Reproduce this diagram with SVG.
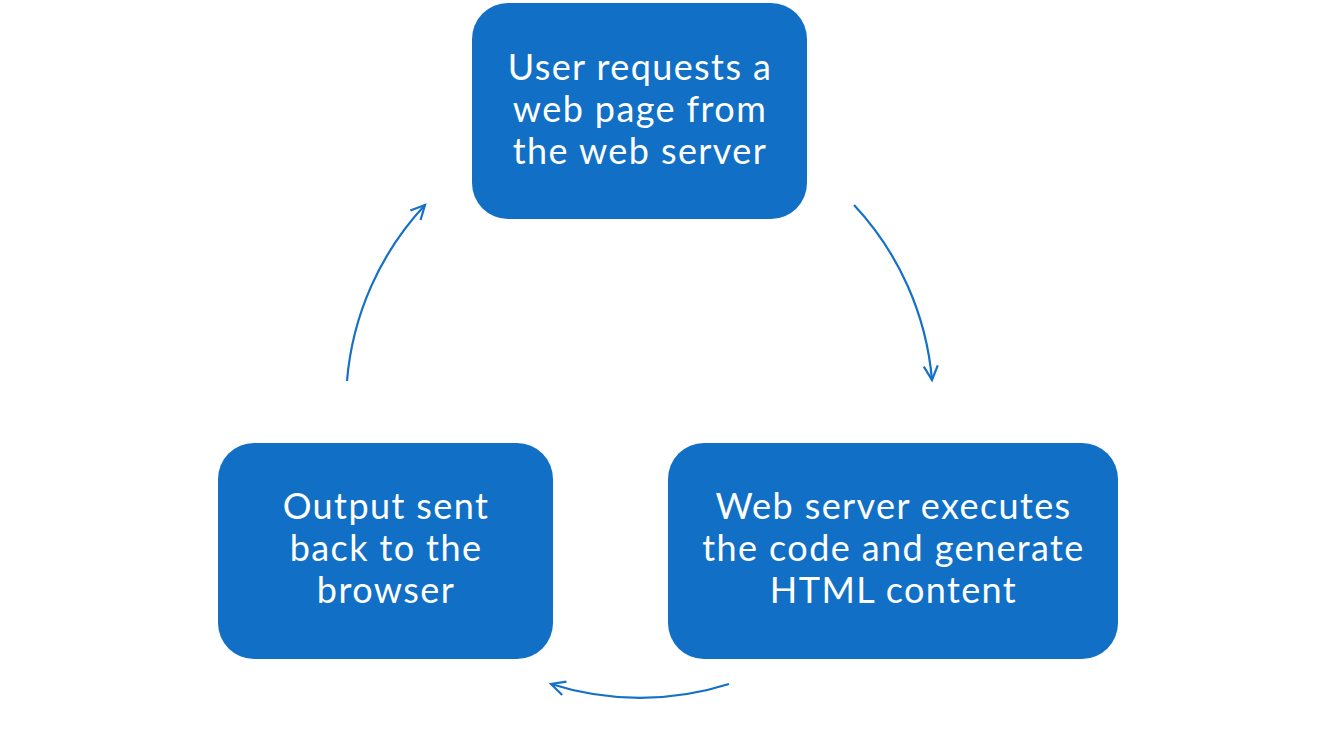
<svg xmlns="http://www.w3.org/2000/svg" width="1337" height="738" viewBox="0 0 1337 738">
  <defs>
    <style>
      .box { fill: #1170C6; }
      .label { fill: #ffffff; font-family: Lato, "Noto Sans", "Liberation Sans", sans-serif; font-size: 36px; letter-spacing: 1.4px; text-anchor: middle; }
      .conn { fill: none; stroke: #1570C8; stroke-width: 2.2; }
    </style>
    <marker id="arrow" markerUnits="userSpaceOnUse" viewBox="-16 -10 20 20" refX="0" refY="0" markerWidth="20" markerHeight="20" orient="auto">
      <path d="M-14,-7 L0,0 L-14,7" fill="none" stroke="#1570C8" stroke-width="2.2"/>
    </marker>
  </defs>
  <rect width="1337" height="738" fill="#ffffff"/>
  <g id="connectors">
    <path class="conn" d="M854,205 A293,293 0 0 1 932,380" marker-end="url(#arrow)"/>
    <path class="conn" d="M729,684 A293,293 0 0 1 551,684" marker-end="url(#arrow)"/>
    <path class="conn" d="M347,381 A293,293 0 0 1 425,205" marker-end="url(#arrow)"/>
  </g>
  <g id="node-request">
    <rect class="box" x="472" y="3" width="335" height="216" rx="36"/>
    <text class="label" x="640" y="80">User requests a</text>
    <text class="label" x="640" y="122">web page from</text>
    <text class="label" x="640" y="164">the web server</text>
  </g>
  <g id="node-execute">
    <rect class="box" x="668" y="443" width="450" height="216" rx="36"/>
    <text class="label" x="893.5" y="519">Web server executes</text>
    <text class="label" x="893.5" y="561">the code and generate</text>
    <text class="label" x="893.5" y="603">HTML content</text>
  </g>
  <g id="node-output">
    <rect class="box" x="218" y="443" width="335" height="216" rx="36"/>
    <text class="label" x="386" y="519">Output sent</text>
    <text class="label" x="386" y="561">back to the</text>
    <text class="label" x="386" y="603">browser</text>
  </g>
</svg>
